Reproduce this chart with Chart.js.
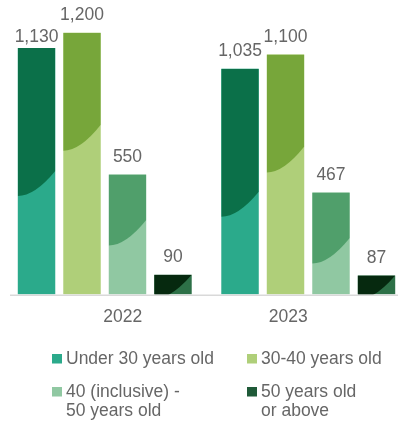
<!DOCTYPE html>
<html>
<head>
<meta charset="utf-8">
<script src="https://cdn.jsdelivr.net/npm/chart.js@4/dist/chart.umd.min.js"></script>
<style>
  html, body { margin: 0; padding: 0; background: #ffffff; }
  #wrap { width: 398px; height: 424px; overflow: hidden; position: relative; }
  canvas { display: block; }
</style>
</head>
<body>
<div id="wrap"><canvas id="chart" width="410" height="424"></canvas></div>
<script>
// Employees by age group
const categories = ['2022', '2023'];
const under30 = [1130, 1035];
const age30to40 = [1200, 1100];
const age40to50 = [550, 467];
const age50plus = [90, 87];
const seriesNames = [
  'Under 30 years old',
  '30-40 years old',
  '40 (inclusive) -\n50 years old',
  '50 years old\nor above'
];

const FONT = '17.5px "Liberation Sans", Arial, Helvetica, sans-serif';
const TEXT = '#666666';

// Two-tone fill: darker shade above a curved split line inside each bar
const twoTone = {
  id: 'twoTone',
  afterDatasetsDraw(chart) {
    const ctx = chart.ctx;
    chart.data.datasets.forEach((ds, di) => {
      const meta = chart.getDatasetMeta(di);
      meta.data.forEach(bar => {
        const { x, y, base, width } = bar.getProps(['x', 'y', 'base', 'width'], true);
        const left = x - width / 2, right = x + width / 2;
        ctx.save();
        ctx.beginPath();
        ctx.rect(left, y, width, base - y);
        ctx.clip();
        ctx.beginPath();
        ctx.moveTo(left, y);
        ctx.lineTo(right, y);
        ctx.lineTo(right, y + ds.splitRight);
        ctx.quadraticCurveTo(left + 0.45 * width, y + ds.splitLeft, left, y + ds.splitLeft);
        ctx.closePath();
        ctx.fillStyle = ds.shade;
        ctx.fill();
        ctx.restore();
      });
    });
  }
};

// Value labels above bars
const valueLabels = {
  id: 'valueLabels',
  afterDatasetsDraw(chart, args, opts) {
    const ctx = chart.ctx;
    ctx.save();
    ctx.font = FONT;
    ctx.fillStyle = TEXT;
    ctx.textAlign = 'center';
    ctx.textBaseline = 'alphabetic';
    chart.data.datasets.forEach((ds, di) => {
      const meta = chart.getDatasetMeta(di);
      meta.data.forEach((bar, i) => {
        const nudge = (opts.nudge && opts.nudge[di + ',' + i]) || 0;
        ctx.fillText(ds.data[i].toLocaleString('en-US'), bar.x, bar.y - 13 + nudge);
      });
    });
    ctx.restore();
  }
};

// Baseline, year labels and legend
const frame = {
  id: 'frame',
  afterDraw(chart, args, opts) {
    const ctx = chart.ctx;
    const area = chart.chartArea;
    const xs = chart.scales.x;
    ctx.save();
    ctx.strokeStyle = '#d9d9d9';
    ctx.lineWidth = 1.5;
    ctx.beginPath();
    ctx.moveTo(10, area.bottom + 0.8);
    ctx.lineTo(398, area.bottom + 0.8);
    ctx.stroke();

    ctx.font = FONT;
    ctx.fillStyle = TEXT;
    ctx.textAlign = 'center';
    ctx.textBaseline = 'alphabetic';
    chart.data.labels.forEach((lab, i) => {
      ctx.fillText(lab, xs.getPixelForValue(i) + opts.yearShift[i], 322);
    });

    ctx.textAlign = 'left';
    const cols = [52, 247];
    const rows = [354, 387];
    chart.data.datasets.forEach((ds, di) => {
      const cx = cols[di % 2];
      const ry = rows[Math.floor(di / 2)];
      ctx.fillStyle = ds.swatch;
      ctx.fillRect(cx, ry, 10, 9.5);
      ctx.fillStyle = TEXT;
      ds.label.split('\n').forEach((line, li) => {
        ctx.fillText(line, cx + 14, ry + 9.8 + li * 19);
      });
    });
    ctx.restore();
  }
};

new Chart(document.getElementById('chart'), {
  type: 'bar',
  data: {
    labels: categories,
    datasets: [
      { label: seriesNames[0], data: under30, backgroundColor: '#2baa8b', shade: '#0b7049', swatch: '#2baa8b', splitLeft: 148, splitRight: 123 },
      { label: seriesNames[1], data: age30to40, backgroundColor: '#afcf79', shade: '#77a63a', swatch: '#afcf79', splitLeft: 118, splitRight: 92 },
      { label: seriesNames[2], data: age40to50, backgroundColor: '#90c8a2', shade: '#509f6b', swatch: '#90c8a2', splitLeft: 71, splitRight: 45.5 },
      { label: seriesNames[3], data: age50plus, backgroundColor: '#2d7047', shade: '#06290f', swatch: '#1f5a38', splitLeft: 24, splitRight: 0 }
    ]
  },
  options: {
    responsive: false,
    animation: false,
    events: [],
    layout: { padding: { left: 3, right: 0, top: 0, bottom: 129.5 } },
    datasets: { bar: { categoryPercentage: 0.894, barPercentage: 0.824, borderWidth: 0 } },
    scales: {
      x: { display: false },
      y: { display: false, min: 0, max: 1350 }
    },
    plugins: {
      legend: { display: false },
      tooltip: { enabled: false },
      valueLabels: { nudge: { '0,0': 7 } },
      frame: { yearShift: [18, -20] }
    }
  },
  plugins: [twoTone, valueLabels, frame]
});
</script>
</body>
</html>
